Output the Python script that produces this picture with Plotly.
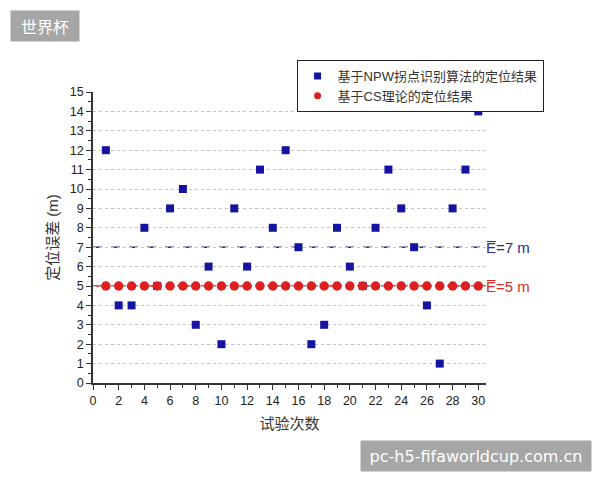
import plotly.graph_objects as go

trials = list(range(1, 31))
npw_error = [12, 4, 4, 8, 5, 9, 10, 3, 6, 2, 9, 6, 11, 8, 12, 7, 2, 3, 8, 6, 5, 8, 11, 9, 7, 4, 1, 9, 11, 14]
cs_error = [5] * 30
mean_values = [7, 5]
mean_labels = ["E\u0305=7 m", "E\u0305=5 m"]
mean_colors = ["#2a2a8c", "#d42a2a"]
mean_dash = ["dash", "dashdot"]
series_names = ["基于NPW拐点识别算法的定位结果", "基于CS理论的定位结果"]
series_colors = ["#1414a0", "#dc2020"]
series_symbols = ["square", "circle"]
x_ticks = list(range(0, 31, 2))
y_ticks = list(range(0, 16))

FONT = "Liberation Sans, Noto Sans CJK SC, sans-serif"

fig = go.Figure()

# mean lines
for v, c, d in zip(mean_values, mean_colors, mean_dash):
    fig.add_shape(type="line", xref="paper", x0=0, x1=1, yref="y", y0=v, y1=v,
                  line=dict(color=c, width=1.5, dash=d), layer="below")

fig.add_trace(go.Scatter(x=trials, y=npw_error, mode="markers", showlegend=False,
                         marker=dict(symbol="square", size=8, color=series_colors[0])))
fig.add_trace(go.Scatter(x=trials, y=cs_error, mode="markers", showlegend=False,
                         marker=dict(symbol="circle", size=9.5, color=series_colors[1])))

# legend entries with smaller markers
for name, c, s in zip(series_names, series_colors, series_symbols):
    fig.add_trace(go.Scatter(x=[None], y=[None], mode="markers", name=name,
                             marker=dict(symbol=s, size=7, color=c)))

for v, lab, c in zip(mean_values, mean_labels, mean_colors):
    fig.add_annotation(xref="paper", x=1.0, yref="y", y=v, text=lab, showarrow=False,
                       xanchor="left", xshift=-2, font=dict(size=15, color=c, family=FONT))

# watermark boxes
fig.add_annotation(xref="paper", yref="paper", x=-0.211, y=1.282, xanchor="left", yanchor="top",
                   text="世界杯", showarrow=False, bgcolor="#a6a6a6", borderpad=4,
                   width=60, height=22,
                   font=dict(size=16, color="white", family="Noto Sans CJK SC"))
fig.add_annotation(xref="paper", yref="paper", x=1.27, y=-0.195, xanchor="right", yanchor="top",
                   text="pc-h5-fifaworldcup.com.cn", showarrow=False, bgcolor="#a6a6a6", borderpad=4,
                   width=222, height=22,
                   font=dict(size=16, color="white", family="DejaVu Sans"))

fig.update_layout(
    width=600, height=480,
    margin=dict(l=93, r=114, t=92, b=97),
    plot_bgcolor="white", paper_bgcolor="white",
    font=dict(family=FONT, size=12, color="#222222"),
    showlegend=True,
    legend=dict(x=0.518, y=1.11, xanchor="left", yanchor="top", bgcolor="white",
                bordercolor="#222222", borderwidth=1, font=dict(size=13, color="#333333"),
                tracegroupgap=0, itemwidth=30),
    xaxis=dict(range=[0, 30.6], tickvals=x_ticks, showgrid=False, zeroline=False,
               showline=True, linecolor="#333333", linewidth=1.5, ticks="outside",
               ticklen=5, tickcolor="#333333", tickfont=dict(size=12.5),
               minor=dict(dtick=1, ticks="outside", ticklen=3, tickcolor="#333333"),
               title=dict(text="试验次数", font=dict(size=15, color="#333333"), standoff=12)),
    yaxis=dict(range=[0, 15], tickvals=y_ticks, showgrid=True, gridcolor="#c4c4c4",
               griddash="dot", gridwidth=1, zeroline=False,
               showline=True, linecolor="#333333", linewidth=1.5, ticks="outside",
               ticklen=5, tickcolor="#333333", tickfont=dict(size=12.5),
               minor=dict(dtick=0.5, ticks="outside", ticklen=3, tickcolor="#333333", showgrid=False),
               title=dict(text="定位误差 (m)", font=dict(size=15, color="#333333"), standoff=8)),
)

fig.write_html("out.html")
